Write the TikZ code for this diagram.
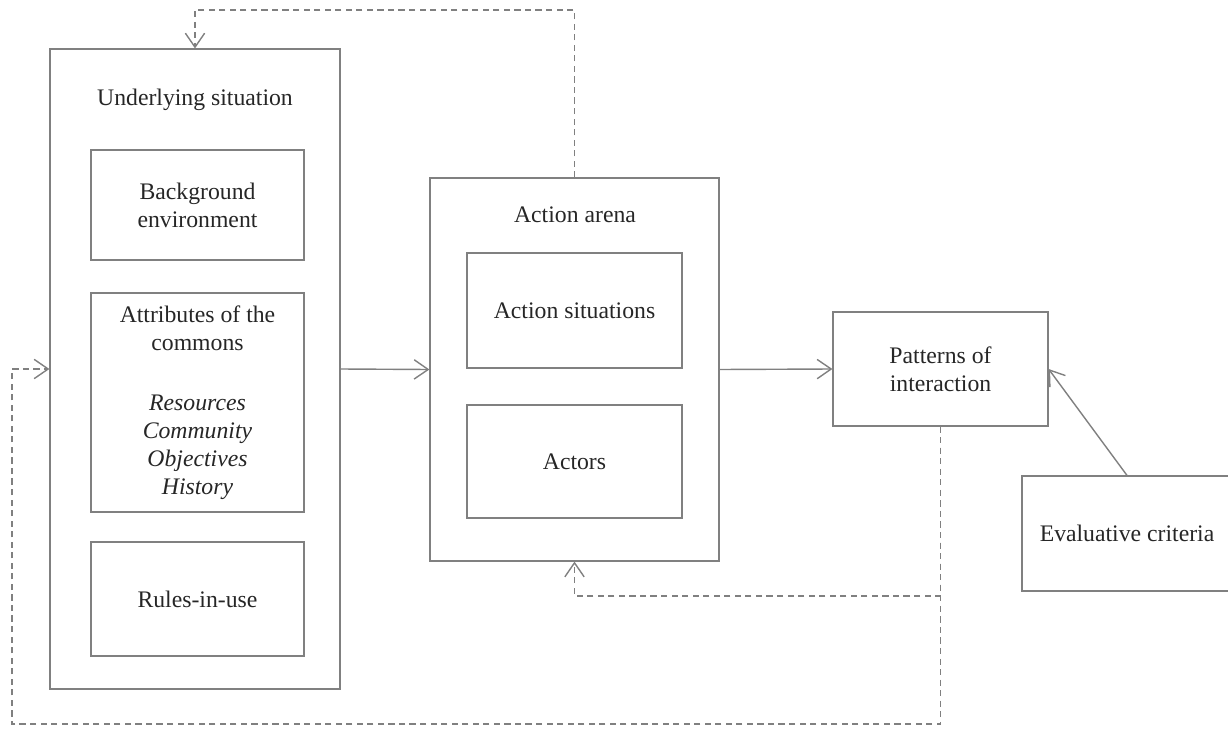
\documentclass[tikz,border=0pt]{standalone}
\usepackage{fontspec}
\setmainfont{Liberation Serif}
\usetikzlibrary{arrows.meta}
\begin{document}
\begin{tikzpicture}[x=0.02cm, y=-0.02cm,
        box/.style={draw=black!50, line width=0.7pt, inner sep=0pt, align=center},
        txt/.style={font=\fontsize{13.5pt}{16pt}\selectfont, text=black!85, align=center},
        link/.style={draw=black!50, line width=0.8pt, -{Straight Barb[length=8pt, width=11pt]}},
        back/.style={link, dash pattern=on 3.5pt off 2.5pt}]
        \clip (0,0) rectangle (1228,730);

        % left column
        \node (outer) at (195,369) [box, minimum width=5.8cm, minimum height=12.8cm] {};
        \node (outertitle) at (195,100) [txt] {Underlying situation};
        \node (bg) at (197.5,205) [box, txt, minimum width=4.26cm, minimum height=2.2cm] {Background\\environment};
        \node (attr) at (197.5,402.5) [box, txt, minimum width=4.26cm, minimum height=4.38cm]
            {Attributes of the\\commons\\[18pt]\textit{Resources}\\\textit{Community}\\\textit{Objectives}\\\textit{History}};
        \node (rules) at (197.5,599) [box, txt, minimum width=4.26cm, minimum height=2.28cm] {Rules-in-use};

        % middle column
        \node (arena) at (574.5,369.5) [box, minimum width=5.78cm, minimum height=7.66cm] {};
        \node (arenatitle) at (575,215) [txt] {Action arena};
        \node (sit) at (574.5,310.5) [box, txt, minimum width=4.3cm, minimum height=2.3cm] {Action situations};
        \node (actors) at (574.5,461.5) [box, txt, minimum width=4.3cm, minimum height=2.26cm] {Actors};

        % right
        \node (patt) at (940.5,369) [box, txt, minimum width=4.3cm, minimum height=2.28cm] {Patterns of\\interaction};
        \node (eval) at (1127,533.5) [box, txt, minimum width=4.2cm, minimum height=2.3cm] {Evaluative criteria};

        \coordinate (leftcorner) at (12,724);

        \draw [link] (outer.east) -- (arena.west);
        \draw [link] (arena.east) -- (patt.west);
        \draw [link] (eval.north) -- (patt.east);

        \draw [back] (arena.north) -- (arena.north |- 0,10) -| (outer.north);
        \draw [back] (patt.south) |- (arena.south |- 0,596) -- (arena.south);
        \draw [back] (patt.south) |- (leftcorner) |- (outer.west);
    \end{tikzpicture}
\end{document}
